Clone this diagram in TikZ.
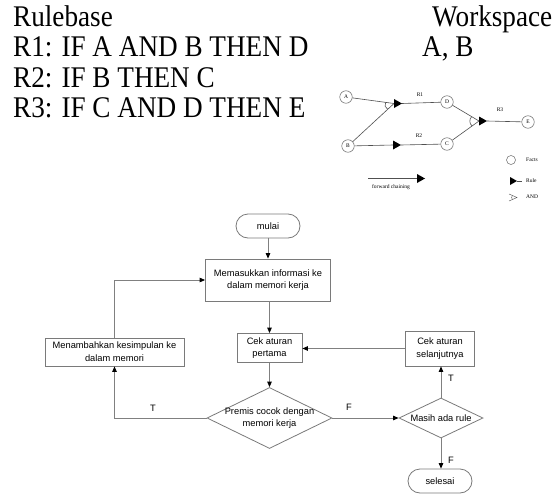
\documentclass[tikz,border=0pt]{standalone}
\usepackage{fontspec}
\setmainfont{Liberation Serif}
\newfontfamily\arialfont{Liberation Sans}
\usetikzlibrary{arrows.meta,shapes.geometric,calc}
\definecolor{boxgray}{HTML}{7A7A7A}
\definecolor{linegray}{HTML}{808080}
\definecolor{factgray}{HTML}{6A6A6A}
\definecolor{glinegray}{HTML}{505050}
\newcommand{\hx}[1]{\scalebox{0.906}[1]{#1}}
\begin{document}
\begin{tikzpicture}[x=1pt,y=-1pt,
 hdr/.style={anchor=base west, inner sep=0, font=\fontsize{30}{30}\selectfont},
 ffont/.style={font=\arialfont\fontsize{9.3}{12.8}\selectfont},
 fbox/.style={draw=boxgray, line width=0.8pt, ffont, align=center, inner sep=0},
 term/.style={fbox, rounded corners=12pt, minimum width=64pt, minimum height=24pt},
 dia/.style={draw=boxgray, line width=0.8pt, diamond, inner sep=0},
 ftxt/.style={ffont, align=center, inner sep=0},
 arr/.style={draw=linegray, line width=0.8pt, -{Triangle[length=5.5pt,width=4.5pt,color=black]}},
 fact/.style={circle, draw=factgray, line width=0.5pt, minimum size=12.5pt, inner sep=0, font=\fontsize{5.5}{5.5}\selectfont},
 gline/.style={draw=glinegray, line width=0.6pt},
 gtxt/.style={font=\fontsize{5.5}{5.5}\selectfont, inner sep=0},
]
\useasboundingbox (0,0) rectangle (554,495);
\fill[white] (0,0) rectangle (554,495);

% ---------- header text ----------
\node[hdr] (rb) at (13,27) {\hx{Rulebase}};
\node[hdr] (r1t) at (13,57) {\hx{R1: IF A AND B THEN D}};
\node[hdr] (r2t) at (13,87) {\hx{R2: IF B THEN C}};
\node[hdr] (r3t) at (13,117) {\hx{R3: IF C AND D THEN E}};
\node[hdr] (ws) at (432,27) {\hx{Workspace}};
\node[hdr] (ab) at (422,57) {\hx{A, B}};

% ---------- inference graph ----------
\begin{scope}[shift={(3,0)}]
\node[fact] (A) at (343,97) {A};
\node[fact] (B) at (345,146) {B};
\node[fact] (D) at (444,102) {D};
\node[fact] (C) at (444,144) {C};
\node[fact] (E) at (525,122) {E};

\coordinate (r1in) at (391,103.5);
\coordinate (r1out) at (399,103.5);
\coordinate (r2in) at (390,145);
\coordinate (r2out) at (398,145);
\coordinate (r3in) at (476,121);
\coordinate (r3out) at (484,121);

\draw[gline] (A) -- (r1in);
\draw[gline] (B) -- (r1in);
\draw[gline] (r1out) -- (D);
\draw[gline] (B) -- (r2in);
\draw[gline] (r2out) -- (C);
\draw[gline] (D) -- (r3in);
\draw[gline] (C) -- (r3in);
\draw[gline] (r3out) -- (E);

\fill[black] (391,99) -- (399,103.5) -- (391,108) -- cycle;
\fill[black] (390,140.5) -- (398,145) -- (390,149.5) -- cycle;
\fill[black] (476,116.5) -- (484,121) -- (476,125.5) -- cycle;

\draw[gline] ($(r1in)!8.5pt!(A)$) to[bend right=50] ($(r1in)!8.5pt!(B)$);
\draw[gline] ($(r3in)!8.5pt!(D)$) to[bend right=50] ($(r3in)!8.5pt!(C)$);

\node[gtxt] (l1) at (417,95) {R1};
\node[gtxt] (l2) at (416,136) {R2};
\node[gtxt] (l3) at (497,110) {R3};

% legend
\node[circle, draw=factgray, line width=0.5pt, minimum size=9pt, inner sep=0] (lf) at (508,160) {};
\node[gtxt, anchor=west] (lft) at (523,160) {Facts};
\coordinate (lr1) at (514,181);
\coordinate (lr2) at (519,181);
\fill[black] (507,177) -- (lr1) -- (507,185) -- cycle;
\draw[gline] (lr1) -- (lr2);
\node[gtxt, anchor=west] (lrt) at (523,181) {Rule};
\coordinate (la) at (514,197.5);
\draw[gline, line width=0.4pt] (506,194) -- (la) -- (506,201);
\draw[gline, line width=0.4pt] ($(la)!5pt!(506,194)$) to[bend right=45] ($(la)!5pt!(506,201)$);
\node[gtxt, anchor=west] (lat) at (523,197) {AND};

\coordinate (fc1) at (365,178.5);
\coordinate (fc2) at (414,178.5);
\draw[gline] (fc1) -- (fc2);
\fill[black] (414,174) -- (422,178.5) -- (414,183) -- cycle;
\node[gtxt] (fct) at (388,187) {forward chaining};
\end{scope}

% ---------- flowchart ----------
\node[term] (mulai) at (268,226) {mulai};
\node[fbox, minimum width=125pt, minimum height=42pt] (masuk) at (268,280) {Memasukkan informasi ke\\dalam memori kerja};
\node[fbox, minimum width=65pt, minimum height=29pt] (cekp) at (269.5,348) {Cek aturan\\pertama};
\node[fbox, minimum width=139pt, minimum height=28pt] (tambah) at (114.5,352) {Menambahkan kesimpulan ke\\dalam memori};
\node[dia, minimum width=125pt, minimum height=61pt] (premis) at (269.5,418) {};
\node[ftxt] (premist) at (269.5,418) {Premis cocok dengan\\memori kerja};
\node[dia, minimum width=84pt, minimum height=40pt] (masih) at (441,418) {};
\node[ftxt] (masiht) at (441,418) {Masih ada rule};
\node[fbox, minimum width=69pt, minimum height=35pt] (ceks) at (440,348.5) {Cek aturan\\selanjutnya};
\node[term] (selesai) at (440,481) {selesai};

\draw[arr] (mulai) -- (mulai |- masuk.north);
\draw[arr] (masuk.south -| cekp.north) -- (cekp.north);
\draw[arr] (cekp) -- (premis);
\draw[arr] (premis.west) -| (tambah.south);
\draw[arr] (tambah.north) |- (masuk.west);
\draw[arr] (premis.east) -- (masih.west);
\draw[arr] (masih.north) -- (masih.north |- ceks.south);
\draw[arr] (ceks.west) -- (ceks.west -| cekp.east);
\draw[arr] (masih.south) -- (masih.south |- selesai.north);

\node[ftxt] (tl) at (153,408) {T};
\node[ftxt] (fl) at (349,407) {F};
\node[ftxt] (tl2) at (451,378) {T};
\node[ftxt] (fl2) at (451,460) {F};
\end{tikzpicture}
\end{document}
